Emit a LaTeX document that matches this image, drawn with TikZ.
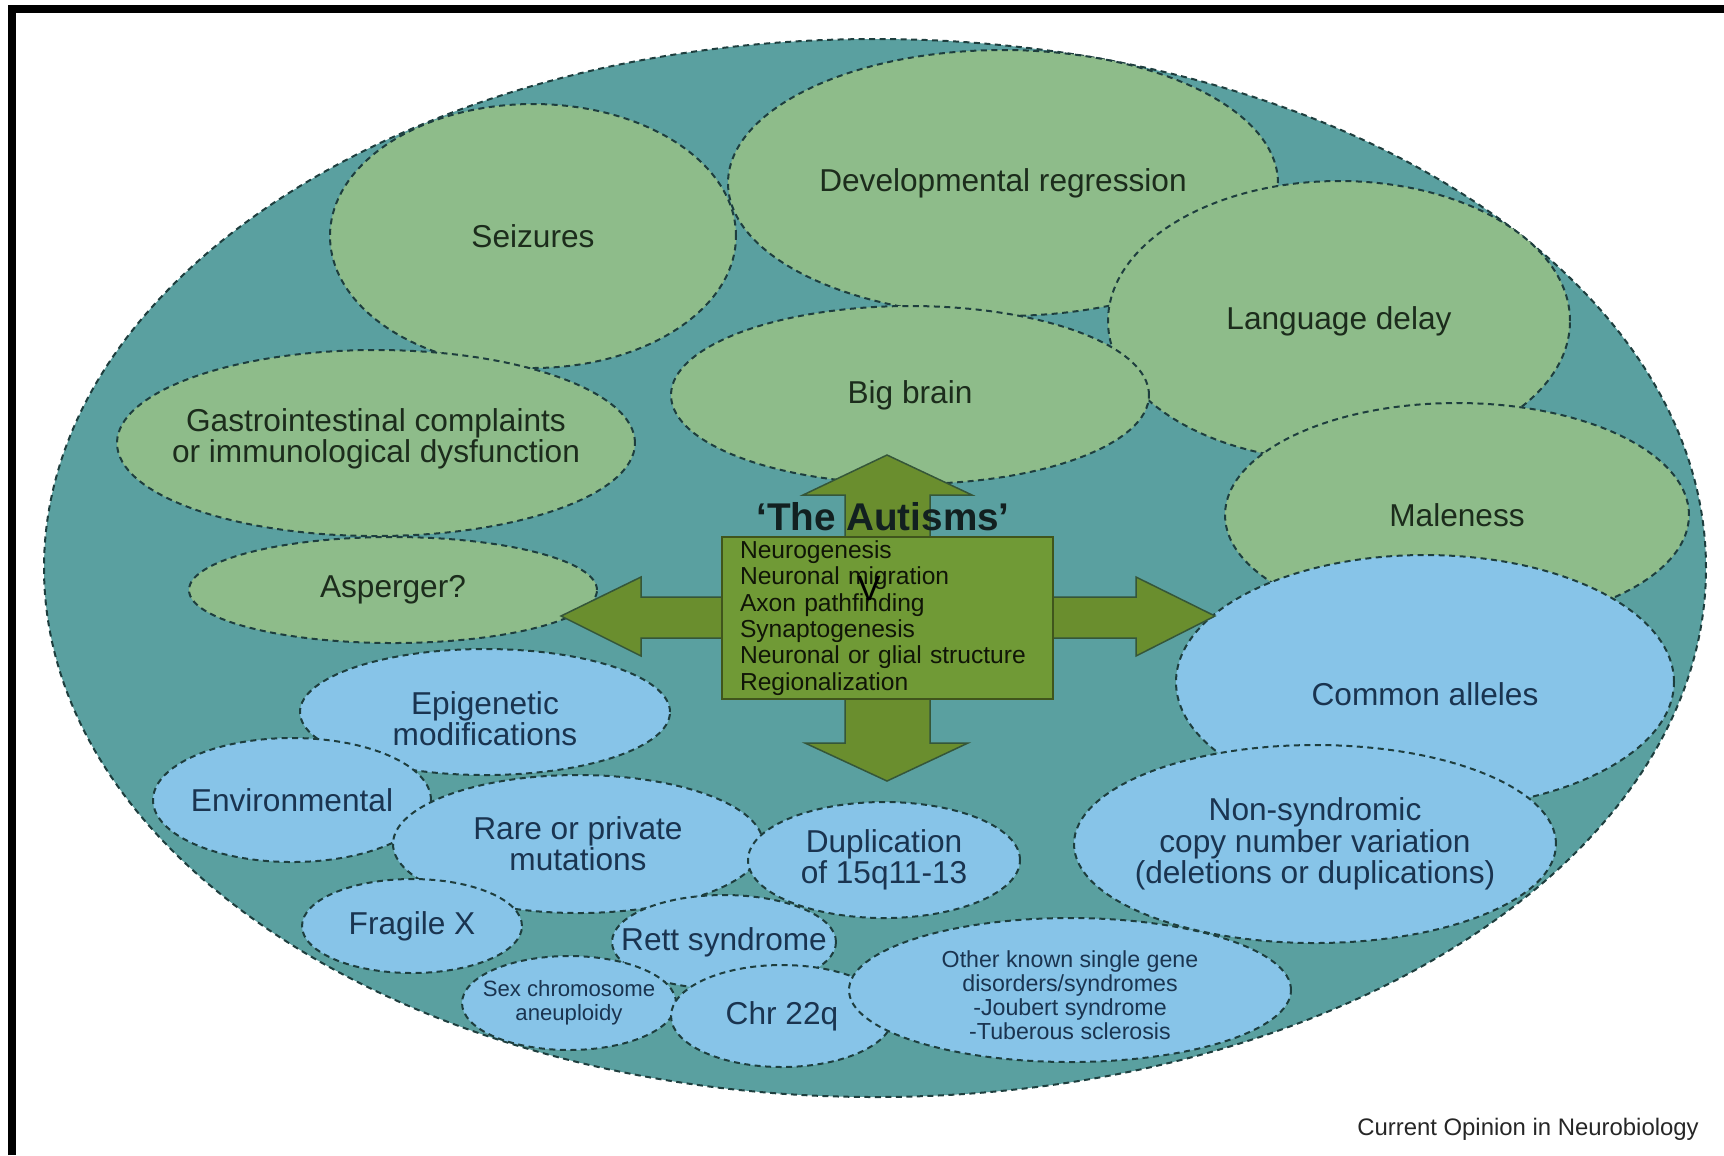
\documentclass[tikz,border=0pt]{standalone}
\usepackage{fontspec}
\setmainfont{Liberation Sans}
\usetikzlibrary{shapes.geometric}

\definecolor{teal1}{RGB}{90,160,160}
\definecolor{leaf}{RGB}{142,188,138}
\definecolor{sky}{RGB}{135,196,232}
\definecolor{olive1}{RGB}{106,142,46}
\definecolor{olive2}{RGB}{112,154,54}
\definecolor{rim}{RGB}{30,62,62}
\definecolor{navytext}{RGB}{26,52,80}
\definecolor{greentext}{RGB}{28,44,28}

\begin{document}
\begin{tikzpicture}[x=0.1mm, y=-0.1mm,
  oval/.style={ellipse, draw=rim, line width=0.2mm, dash pattern=on 0.6mm off 0.45mm, inner sep=0pt},
  ovalsize/.style 2 args={minimum width=#1*0.2mm, minimum height=#2*0.2mm},
  greenoval/.style={oval, fill=leaf},
  blueoval/.style={oval, fill=sky},
  gtext/.style={text=greentext, font=\fontsize{9}{8.8}\selectfont, align=center, inner sep=0pt},
  btext/.style={text=navytext, font=\fontsize{9}{8.8}\selectfont, align=center, inner sep=0pt},
  tinytext/.style={font=\fontsize{6.6}{6.8}\selectfont}
]

\useasboundingbox (0,0) rectangle (1724,1155);
\draw[line width=0.8mm] (12,1155) -- (12,9) -- (1724,9);

% the big one
\draw[fill=teal1, draw=rim, line width=0.2mm, dash pattern=on 0.6mm off 0.45mm] (875,568) ellipse [x radius=83.1mm, y radius=52.9mm];

% features
\node[greenoval, ovalsize={203}{132}, label={[gtext]center:Seizures}] (seizures) at (533,236) {};
\node[greenoval, ovalsize={275}{133}, label={[gtext]center:Developmental regression}] (devreg) at (1003,183) {};
\node[greenoval, ovalsize={231}{140}, label={[gtext]center:Language delay}] (langdelay) at (1339,321) {};
\node[greenoval, ovalsize={259}{93}, label={[gtext, yshift=0.4mm]center:{Gastrointestinal complaints\\or immunological dysfunction}}] (gastro) at (376,443) {};
\node[greenoval, ovalsize={239}{89}, label={[gtext]center:Big brain}] (bigbrain) at (910,395) {};
\node[greenoval, ovalsize={232}{112}, label={[gtext]center:Maleness}] (maleness) at (1457,515) {};
\node[greenoval, ovalsize={204}{53}, label={[gtext]center:Asperger?}] (asperger) at (393,590) {};

% causes
\node[blueoval, ovalsize={185}{63}, label={[btext, yshift=-0.7mm]center:{Epigenetic\\modifications}}] (epigen) at (485,712) {};
\node[blueoval, ovalsize={139}{62}, label={[btext]center:Environmental}] (environ) at (292,800) {};
\node[blueoval, ovalsize={185}{69}, label={[btext]center:{Rare or private\\mutations}}] (rare) at (578,844) {};
\node[blueoval, ovalsize={136}{58}, label={[btext]center:{Duplication\\of 15q11-13}}] (dup) at (884,860) {};
\node[blueoval, ovalsize={110}{47}, label={[btext]center:Fragile X}] (fragx) at (412,926) {};
\node[blueoval, ovalsize={112}{47}, label={[btext]center:Rett syndrome}] (rett) at (724,942) {};
\node[blueoval, ovalsize={107}{47}, label={[btext, font=\fontsize{6.3}{6.8}\selectfont]center:{Sex chromosome\\aneuploidy}}] (sexchrom) at (569,1003) {};
\node[blueoval, ovalsize={111}{51}, label={[btext]center:Chr 22q}] (chr) at (782,1016) {};
\node[blueoval, ovalsize={221}{72}, label={[btext, tinytext, yshift=-0.5mm]center:{Other known single gene\\disorders/syndromes\\-Joubert syndrome\\-Tuberous sclerosis}}] (single) at (1070,990) {};
\node[blueoval, ovalsize={249}{127}, label={[btext, yshift=-1.2mm]center:Common alleles}] (alleles) at (1425,682) {};
\node[blueoval, ovalsize={241}{99}, label={[btext, font=\fontsize{9}{8.9}\selectfont]center:{Non-syndromic\\copy number variation\\(deletions or duplications)}}] (cnv) at (1315,844) {};

% cross
\draw[fill=olive1, draw=rim!70!olive1, line width=0.15mm] (887,455) -- (972,495) -- (930,495) -- (930,597) -- (1136,597) -- (1136,577) -- (1215,616) -- (1136,656) -- (1136,638) -- (930,638) -- (930,743) -- (968,743) -- (887,781) -- (805,743) -- (845,743) -- (845,638) -- (641,638) -- (641,656) -- (561,616) -- (641,577) -- (641,597) -- (845,597) -- (845,495) -- (803,495) -- cycle;

\node[draw=olive1!60!black, line width=0.15mm, fill=olive2, minimum width=33.1mm, minimum height=16.2mm, text width=29.5mm, align=left, inner xsep=1.8mm, inner ysep=0.3mm, font=\fontsize{7}{7.5}\selectfont, text=black!85!olive1] (steps) at (887.5,618) {Neurogenesis\\Neuronal migration\\Axon pathfinding\\Synaptogenesis\\Neuronal or glial structure\\Regionalization};

\node[font=\bfseries\fontsize{11}{11}\selectfont, text=black!80!teal1] (title) at (883,517) {`The Autisms'};
\node[font=\fontsize{10}{10}\selectfont] (vmark) at (869,588) {V};

\node[font=\fontsize{6.8}{7}\selectfont, text=black!85] (journal) at (1528,1129) {Current Opinion in Neurobiology};

\end{tikzpicture}
\end{document}
